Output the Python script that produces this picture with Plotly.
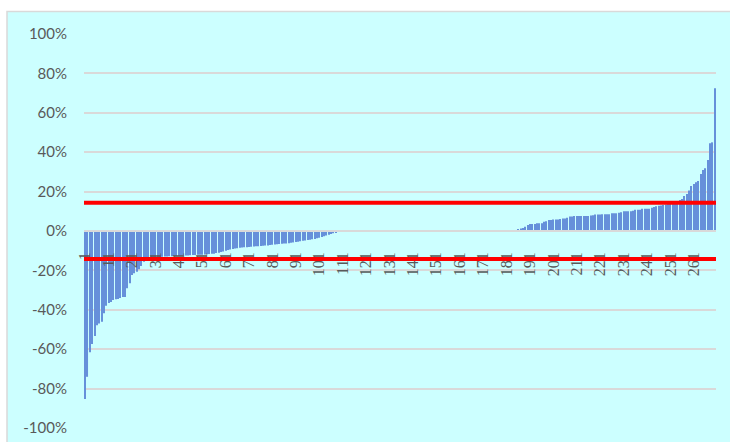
import plotly.graph_objects as go

# ---- data ----
neg_values = [
    -0.853, -0.74, -0.615, -0.574, -0.533, -0.478, -0.47, -0.46, -0.417, -0.38,
    -0.366, -0.36, -0.35, -0.346, -0.345, -0.34, -0.335, -0.335, -0.29, -0.265,
    -0.223, -0.215, -0.207, -0.194, -0.178, -0.156, -0.145, -0.143, -0.14, -0.138,
    -0.136, -0.134, -0.133, -0.131, -0.13, -0.129, -0.128, -0.128, -0.127, -0.127,
    -0.126, -0.125, -0.125, -0.124, -0.124, -0.123, -0.122, -0.122, -0.121, -0.12,
    -0.12, -0.119, -0.118, -0.117, -0.116, -0.115, -0.112, -0.11, -0.107, -0.104,
    -0.1, -0.097, -0.094, -0.091, -0.089, -0.087, -0.085, -0.084, -0.083, -0.082,
    -0.081, -0.08, -0.079, -0.078, -0.077, -0.076, -0.075, -0.074, -0.073, -0.071,
    -0.07, -0.068, -0.067, -0.066, -0.065, -0.064, -0.063, -0.062, -0.06, -0.058,
    -0.056, -0.054, -0.052, -0.05, -0.048, -0.046, -0.044, -0.042, -0.04, -0.037,
    -0.034, -0.031, -0.027, -0.023, -0.019, -0.015, -0.011, -0.007, -0.004, -0.002,
]
zero_values = [
    0, 0, 0, 0, 0, 0, 0, 0, 0, 0, 0, 0, 0, 0, 0,
    0, 0, 0, 0, 0, 0, 0, 0, 0, 0, 0, 0, 0, 0, 0,
    0, 0, 0, 0, 0, 0, 0, 0, 0, 0, 0, 0, 0, 0, 0,
    0, 0, 0, 0, 0, 0, 0, 0, 0, 0, 0, 0, 0, 0, 0,
    0, 0, 0, 0, 0, 0, 0, 0, 0, 0, 0, 0, 0, 0, 0,
]
pos_values = [
    0.009, 0.013, 0.015, 0.022, 0.03, 0.035, 0.035, 0.035, 0.039, 0.039,
    0.039, 0.047, 0.05, 0.056, 0.056, 0.059, 0.059, 0.059, 0.061, 0.064,
    0.064, 0.067, 0.073, 0.073, 0.076, 0.076, 0.076, 0.076, 0.076, 0.076,
    0.076, 0.079, 0.08, 0.084, 0.084, 0.084, 0.085, 0.085, 0.085, 0.085,
    0.09, 0.09, 0.09, 0.092, 0.095, 0.1, 0.1, 0.1, 0.1, 0.103,
    0.108, 0.108, 0.108, 0.113, 0.113, 0.113, 0.113, 0.118, 0.122, 0.125,
    0.128, 0.13, 0.132, 0.135, 0.138, 0.14, 0.143, 0.146, 0.15, 0.157,
    0.163, 0.178, 0.188, 0.205, 0.228, 0.238, 0.247, 0.254, 0.289, 0.31,
    0.318, 0.36, 0.445, 0.45, 0.724,
]
values = neg_values + zero_values + pos_values
categories = list(range(1, len(values) + 1))

upper_line = 0.144
lower_line = -0.142

x_tick_vals = list(range(1, 262, 10))
x_tick_text = [str(v) for v in x_tick_vals]
y_tick_vals = [-1.0, -0.8, -0.6, -0.4, -0.2, 0.0, 0.2, 0.4, 0.6, 0.8, 1.0]
y_tick_text = ["-100%", "-80%", "-60%", "-40%", "-20%", "0%",
               "20%", "40%", "60%", "80%", "100%"]

# ---- figure ----
W, H = 730, 442
ML, MR, MT, MB = 84, 14, 33, 13
pw, ph = W - ML - MR, H - MT - MB

fig = go.Figure()
fig.add_trace(go.Bar(
    x=categories, y=values,
    marker=dict(color="#6690DA", line=dict(width=0)),
    hoverinfo="x+y",
))

fig.add_shape(type="line", xref="x", yref="y",
              x0=0.5, x1=len(values) + 0.5, y0=upper_line, y1=upper_line,
              line=dict(color="#FF0000", width=4), layer="above")
fig.add_shape(type="line", xref="x", yref="y",
              x0=0.5, x1=len(values) + 0.5, y0=lower_line, y1=lower_line,
              line=dict(color="#FF0000", width=4), layer="above")

# chart-area background with border
fig.add_shape(type="rect", xref="paper", yref="paper",
              x0=(7 - ML) / pw, x1=(W + 20 - ML) / pw,
              y0=-(MB + 20) / ph, y1=(H - MB - 11.5) / ph,
              fillcolor="#CCFFFF", line=dict(color="#D9D9D9", width=1.5),
              layer="below")

fig.update_layout(
    width=W, height=H, autosize=False,
    margin=dict(l=ML, r=MR, t=MT, b=MB, pad=0),
    paper_bgcolor="white", plot_bgcolor="rgba(0,0,0,0)",
    bargap=0.55, showlegend=False,
    font=dict(family="Lato, sans-serif", color="#595959"),
)
fig.update_xaxes(
    range=[0.5, len(values) + 0.5], automargin=False,
    anchor="free", position=0.5,
    tickmode="array", tickvals=x_tick_vals, ticktext=x_tick_text,
    tickangle=-90, ticks="outside", ticklen=14, tickcolor="rgba(0,0,0,0)",
    showgrid=False, zeroline=False,
    showline=True, linecolor="#D9D9D9", linewidth=1.5,
    tickfont=dict(family="Liberation Serif, serif", size=16, color="#595959"),
)
fig.update_yaxes(
    range=[-1.005, 1.005], automargin=False,
    tickmode="array", tickvals=y_tick_vals, ticktext=y_tick_text,
    showgrid=True, gridcolor="#D9D9D9", gridwidth=1.5,
    zeroline=False, showline=False, ticks="",
    tickfont=dict(family="Lato, sans-serif", size=15, color="#595959"),
    ticklabelstandoff=16,
)

fig.write_html(
    "out.html",
    config={"displayModeBar": False},
    post_script="document.body.style.margin='0';document.body.style.overflow='hidden';",
)
